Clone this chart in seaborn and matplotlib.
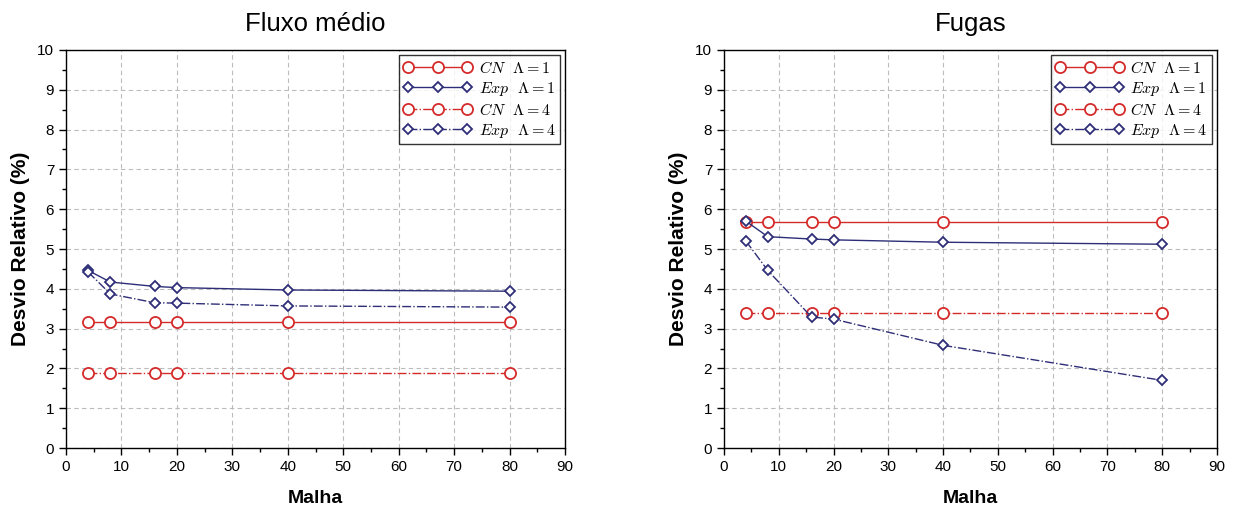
import matplotlib
matplotlib.use("Agg")
import matplotlib.pyplot as plt
import seaborn as sns
import numpy as np
from matplotlib.ticker import MultipleLocator

sns.set_theme(style="white")
plt.rcParams['font.family'] = ['Liberation Sans', 'DejaVu Sans']
plt.rcParams['mathtext.fontset'] = 'cm'
plt.rcParams['text.color'] = 'black'
plt.rcParams['axes.labelcolor'] = 'black'
plt.rcParams['xtick.color'] = 'black'
plt.rcParams['ytick.color'] = 'black'

malha = [4, 8, 16, 20, 40, 80]

# Fluxo médio
fluxo_cn1 = [3.17, 3.17, 3.17, 3.17, 3.17, 3.17]
fluxo_exp1 = [4.46, 4.17, 4.06, 4.03, 3.97, 3.94]
fluxo_cn4 = [1.89, 1.89, 1.89, 1.89, 1.89, 1.89]
fluxo_exp4 = [4.42, 3.87, 3.65, 3.64, 3.57, 3.54]

# Fugas
fugas_cn1 = [5.68, 5.68, 5.68, 5.68, 5.68, 5.68]
fugas_exp1 = [5.70, 5.31, 5.25, 5.23, 5.17, 5.12]
fugas_cn4 = [3.38, 3.38, 3.38, 3.38, 3.38, 3.38]
fugas_exp4 = [5.20, 4.46, 3.29, 3.24, 2.58, 1.70]

titles = ["Fluxo médio", "Fugas"]
labels = [r"$CN\ \ \Lambda=1$", r"$Exp\ \ \Lambda=1$", r"$CN\ \ \Lambda=4$", r"$Exp\ \ \Lambda=4$"]

RED = "#d42a2a"
NAVY = "#2e2e78"

fig = plt.figure(figsize=(12.34, 5.09), dpi=100)
ax1 = fig.add_axes([0.0535, 0.1198, 0.4044, 0.782])
ax2 = fig.add_axes([0.5867, 0.1198, 0.3995, 0.782])

datasets = [
    (ax1, [fluxo_cn1, fluxo_exp1, fluxo_cn4, fluxo_exp4]),
    (ax2, [fugas_cn1, fugas_exp1, fugas_cn4, fugas_exp4]),
]

for (ax, series), title in zip(datasets, titles):
    styles = [
        dict(color=RED, marker='o', linestyle='-', ms=8),
        dict(color=NAVY, marker='D', linestyle='-', ms=5.5),
        dict(color=RED, marker='o', linestyle='-.', ms=8),
        dict(color=NAVY, marker='D', linestyle='-.', ms=5.5),
    ]
    for vals, lab, st in zip(series, labels, styles):
        sns.lineplot(x=malha, y=vals, ax=ax, color=st['color'], marker=st['marker'],
                     linestyle=st['linestyle'], markersize=st['ms'],
                     markerfacecolor='white', markeredgecolor=st['color'],
                     markeredgewidth=1.3, linewidth=1.0, label=lab)
    ax.set_xlim(0, 90)
    ax.set_ylim(0, 10)
    ax.xaxis.set_major_locator(MultipleLocator(10))
    ax.xaxis.set_minor_locator(MultipleLocator(5))
    ax.yaxis.set_major_locator(MultipleLocator(1))
    ax.yaxis.set_minor_locator(MultipleLocator(0.5))
    ax.grid(True, which='major', linestyle=(0, (4, 3)), color='#bbbbbb', linewidth=0.8)
    ax.tick_params(which='major', direction='out', length=5, width=1, labelsize=11,
                   bottom=True, left=True, colors='black')
    ax.tick_params(which='minor', direction='out', length=3, width=1, bottom=True, left=True)
    for sp in ax.spines.values():
        sp.set_color('black')
        sp.set_linewidth(1.0)
    ax.set_title(title, fontsize=18.5, pad=14)
    ax.set_xlabel("Malha", fontsize=14, fontweight='bold', labelpad=12)
    ax.set_ylabel("Desvio Relativo (%)", fontsize=15, fontweight='bold', labelpad=5)
    leg = ax.legend(loc='upper right', fontsize=11.5, frameon=True, fancybox=False,
                    edgecolor='black', borderaxespad=0.3, handlelength=4.3, numpoints=3,
                    labelspacing=0.25, borderpad=0.3, handletextpad=0.4)
    leg.get_frame().set_linewidth(1.0)

fig.savefig("out.png", dpi=100)
